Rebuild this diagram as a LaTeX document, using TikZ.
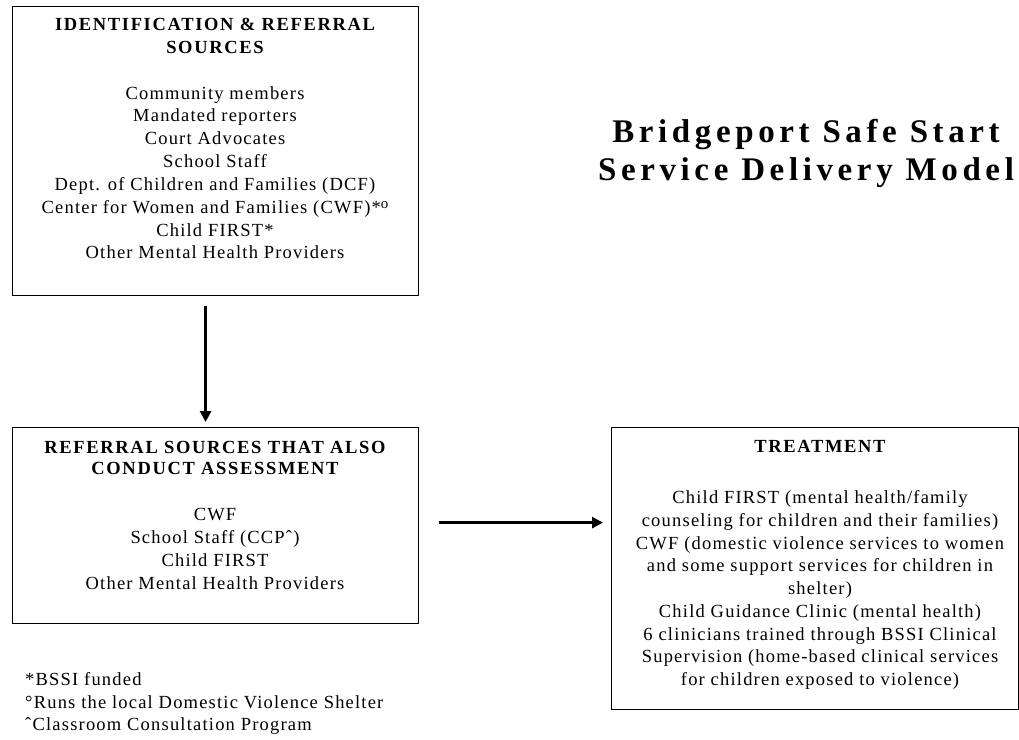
\documentclass[tikz,border=0pt]{standalone}
\usepackage{fontspec}
\usetikzlibrary{arrows.meta,calc}
\newfontfamily\bodyfont[LetterSpace=6.5]{Liberation Serif}
\newfontfamily\headfont[LetterSpace=9]{Liberation Serif}
\newfontfamily\titlefont[LetterSpace=14]{Liberation Serif}
\begin{document}
\begin{tikzpicture}[x=1pt,y=-1pt,
  box/.style={draw=black,line width=1.2pt,fill=none,inner sep=0pt,anchor=north west},
  body/.style={anchor=base,inner sep=0pt,font=\bodyfont\fontsize{18.5}{22}\selectfont},
  head/.style={anchor=base,inner sep=0pt,font=\headfont\bfseries\fontsize{18.5}{22}\selectfont},
  foot/.style={anchor=base west,inner sep=0pt,font=\bodyfont\fontsize{18.5}{22}\selectfont},
  ttl/.style={anchor=base,inner sep=0pt,font=\titlefont\bfseries\fontsize{33}{38}\selectfont},
  conn/.style={line width=2.6pt,-{Triangle[length=11pt,width=11pt]}}]
\useasboundingbox (0,0) rectangle (1019,739);
% boxes
\node[box,minimum width=406pt,minimum height=289pt] (b1) at (12,6) {};
\node[box,minimum width=406pt,minimum height=196pt] (b2) at (12,427) {};
\node[box,minimum width=407pt,minimum height=282pt] (b3) at (611,427) {};
% title
\node[ttl] (ti1) at (806,142) {Bridgeport Safe Start};
\node[ttl] (ti2) at (806,180) {Service Delivery Model};
% box 1 text
\node[head] (h1a) at (215,30) {IDENTIFICATION \& REFERRAL};
\node[head] (h1b) at (215,53) {SOURCES};
\foreach \t [count=\i] in {{Community members},{Mandated reporters},{Court Advocates},{School Staff},{Dept. of Children and Families (DCF)},{Center for Women and Families (CWF)*\raisebox{5pt}{\fontsize{15}{15}\selectfont o}},{Child FIRST*},{Other Mental Health Providers}}
  \node[body] (a\i) at (215,{99+22.85*(\i-1)}) {\t};
% box 2 text
\node[head] (h2a) at (215,453) {REFERRAL SOURCES THAT ALSO};
\node[head] (h2b) at (215,474) {CONDUCT ASSESSMENT};
\foreach \t [count=\i] in {{CWF},{School Staff (CCPˆ)},{Child FIRST},{Other Mental Health Providers}}
  \node[body] (c\i) at (215,{520+23*(\i-1)}) {\t};
% box 3 text
\node[head] (h3) at (820,452) {TREATMENT};
\foreach \t [count=\i] in {{Child FIRST (mental health/family},{counseling for children and their families)},{CWF (domestic violence services to women},{and some support services for children in},{shelter)},{Child Guidance Clinic (mental health)},{6 clinicians trained through BSSI Clinical},{Supervision (home-based clinical services},{for children exposed to violence)}}
  \node[body] (d\i) at (820,{503.5+22.75*(\i-1)}) {\t};
% footnotes
\node[foot] (f1) at (25,685) {*BSSI funded};
\node[foot] (f2) at (25,708) {°Runs the local Domestic Violence Shelter};
\node[foot] (f3) at (25,730) {ˆClassroom Consultation Program};
% connectors
\draw[conn,shorten <=10pt,shorten >=5pt] ([xshift=-10pt]b1.south) -- ([xshift=-10pt]b2.north);
\draw[conn,shorten <=20pt,shorten >=8pt] ([yshift=3pt]b2.east) -- ([yshift=3pt]b2.east -| b3.west);
\end{tikzpicture}
\end{document}
